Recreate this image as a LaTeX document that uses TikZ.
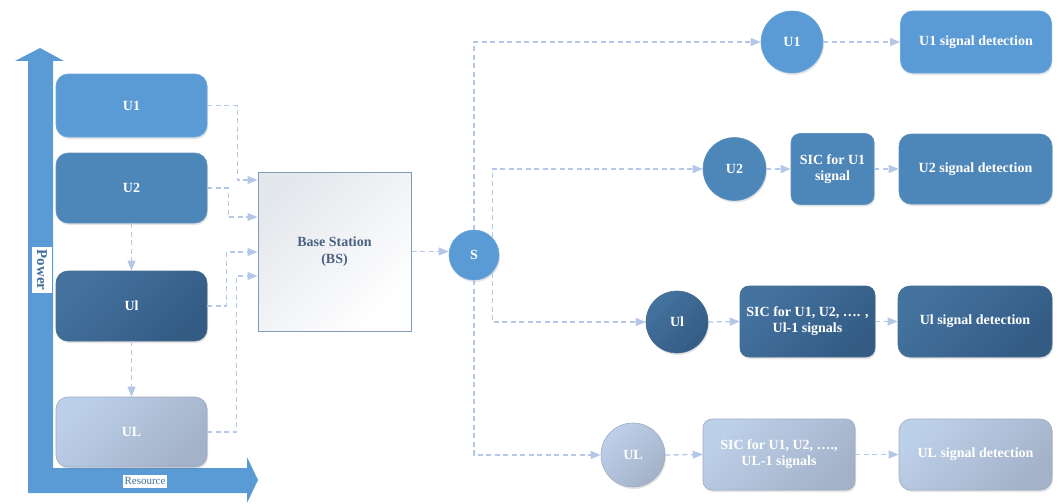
\documentclass[tikz,border=0pt]{standalone}
\usepackage{fontspec}
\setmainfont{Liberation Serif}
\usetikzlibrary{arrows.meta,shadows,calc}

\definecolor{cLight}{HTML}{5B9BD5}
\definecolor{cMid}{HTML}{4D86B9}
\definecolor{cDarkA}{HTML}{44739F}
\definecolor{cDarkB}{HTML}{335B84}
\definecolor{cPaleA}{HTML}{BDD0E9}
\definecolor{cPaleB}{HTML}{A3B2C9}
\definecolor{cPaleEdge}{HTML}{9CAAC0}
\definecolor{cLink}{HTML}{B4C7E7}
\definecolor{cBSEdge}{HTML}{7F9CBC}
\definecolor{cBSFill}{HTML}{E4E7EC}
\definecolor{cBSText}{HTML}{4A6282}
\definecolor{cAxisText}{HTML}{41719C}

\tikzset{
  x=1pt, y=-1pt,
  txt/.style={font=\fontsize{14}{16}\selectfont\bfseries, text=white, align=center},
  shad/.style={drop shadow={shadow xshift=1pt, shadow yshift=-2pt, opacity=0.15, fill=black!70}},
  tone1/.style={fill=cLight, draw=cLight!90!white},
  tone2/.style={fill=cMid, draw=cMid!90!white},
  tone3/.style={top color=cDarkA, bottom color=cDarkB, shading angle=45, draw=cDarkB!90!white},
  tone4/.style={top color=cPaleA, bottom color=cPaleB, shading angle=45, draw=cPaleEdge},
  ubox/.style={txt, shad, rounded corners=12pt, minimum width=151pt, minimum height=70pt, inner sep=0pt, line width=0.6pt},
  sicbox/.style={txt, shad, rounded corners=9pt, minimum height=71pt, inner sep=0pt, line width=0.6pt},
  ucirc/.style={txt, shad, circle, minimum size=63pt, inner sep=0pt, line width=0.6pt},
  conn/.style={draw=cLink, line width=1.3pt, dash pattern=on 5pt off 3.5pt,
    -{Triangle[length=10pt,width=8pt,fill=cLink]}},
}

\begin{document}
\begin{tikzpicture}
\useasboundingbox (0,0) rectangle (1059,503);

% power / resource axes
\fill[cLight] (28,61) -- (28,493) -- (247,493) -- (247,503) -- (258,480)
  -- (247,457) -- (247,468) -- (53,468) -- (53,61) -- (64,61) -- (40,48)
  -- (15,61) -- cycle;
\node[fill=white, inner sep=0pt, minimum width=20pt, minimum height=46pt,
  text=cAxisText] (power) at (42,270)
  {\rotatebox{-90}{\fontsize{15}{15}\selectfont\bfseries Power}};
\node[fill=white, inner sep=0pt, minimum width=44pt, minimum height=13pt,
  text=cAxisText, font=\fontsize{11}{11}\selectfont] (resource) at (145,481) {Resource};

% users on the power axis
\node[ubox, tone1, minimum height=63pt] (lu1) at (131.5,105.5) {U1};
\node[ubox, tone2] (lu2) at (131.5,188) {U2};
\node[ubox, tone3] (lul1) at (131.5,306) {Ul};
\node[ubox, tone4] (lul) at (131.5,432) {UL};

% base station
\node[draw=cBSEdge, line width=1pt, top color=cBSFill, bottom color=white,
  shading angle=45, minimum width=153pt, minimum height=159pt, inner sep=0pt,
  font=\fontsize{14}{17}\selectfont\bfseries, text=cBSText, align=center]
  (bs) at (334.5,251.5) {Base Station\\(BS)};

% receiver chains
\node[ucirc, tone1, minimum size=62pt] (ru1) at (792,42) {U1};
\node[ubox, tone1, minimum height=62pt] (det1) at (976,42) {U1 signal detection};

\node[ucirc, tone2] (ru2) at (734.5,169) {U2};
\node[sicbox, tone2, minimum width=83pt] (sic2) at (832.5,169) {SIC for U1\\signal};
\node[ubox, tone2, minimum width=153pt] (det2) at (975.5,169) {U2 signal detection};

\node[ucirc, tone3, minimum size=62pt] (rul1) at (677,322) {Ul};
\node[sicbox, tone3, minimum width=135pt] (sic3) at (807.5,321.5) {SIC for U1, U2, …. ,\\Ul-1 signals};
\node[ubox, tone3, minimum width=154pt, minimum height=71pt] (det3) at (975,321.5) {Ul signal detection};

\node[ucirc, tone4, minimum size=64pt] (rul) at (633,455) {UL};
\node[sicbox, tone4, minimum width=152pt] (sicl) at (779,454.5) {SIC for U1, U2, ….,\\UL-1 signals};
\node[ubox, tone4, minimum width=153pt, minimum height=71pt] (detl) at (975.5,454.5) {UL signal detection};

% superposed signal
\node[ucirc, tone1, minimum size=50pt] (s) at (474,255) {S};

% user signals into the base station
\draw[conn] (lu1.east) -- ++(30,0) |- ($(bs.west)+(0,-71.5)$);
\draw[conn] (lu2.east) -- ++(21,0) |- ($(bs.west)+(0,-34.5)$);
\draw[conn] (lul1.east) -- ++(19,0) |- ($(bs.west)+(0,0.5)$);
\draw[conn] (lul.east) -- ++(29,0) |- ($(bs.west)+(0,24.5)$);

% power ordering
\draw[conn] (lu2.south) -- (lul1.north);
\draw[conn] (lul1.south) -- (lul.north);

% fan-out from the superposed signal
\draw[conn] (bs.east) -- (bs.east -| s.west);
\draw[conn] (s.north) |- (ru1.west);
\draw[conn] (s.44) |- (ru2.west);
\draw[conn] (s.-44) |- (rul1.west);
\draw[conn] (s.south) |- (rul.west);

% detection chains
\draw[conn] (ru1.east) -- (det1.west);
\draw[conn] (ru2.east) -- (sic2.west);
\draw[conn] (sic2.east) -- (det2.west);
\draw[conn] (rul1.east) -- (sic3.west);
\draw[conn] (sic3.east) -- (det3.west);
\draw[conn] (rul.east) -- (sicl.west);
\draw[conn] (sicl.east) -- (detl.west);
\end{tikzpicture}
\end{document}
